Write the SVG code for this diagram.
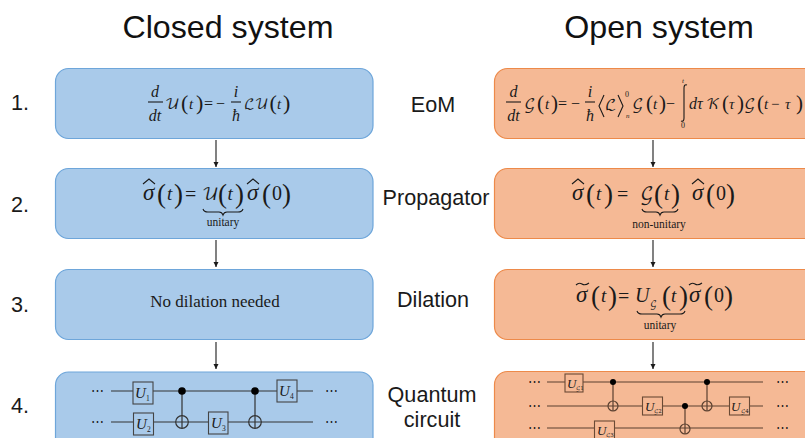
<svg xmlns="http://www.w3.org/2000/svg" width="805" height="438" viewBox="0 0 805 438">
<style>
.h{font:32.2px "Liberation Sans",Arial,sans-serif;fill:#111}
.l{font:21.6px "Liberation Sans",Arial,sans-serif;fill:#1a1a1a}
.blue{fill:#a9caea;stroke:#6ea6da;stroke-width:1.2}
.or{fill:#f5b995;stroke:#ed8a4a;stroke-width:1.2}
.m{font-family:"Liberation Serif","Times New Roman",serif;fill:#1a1a1a}
.i{font-style:italic}
.s{font-family:"DejaVu Math TeX Gyre","DejaVu Serif","Liberation Serif",serif;font-style:normal;fill:#1a1a1a}
.c{stroke:#1a1a1a;stroke-width:1.1;fill:none}
.w{stroke:#333;stroke-width:1.2;fill:none}
.wo{stroke:#5a4030;stroke-width:1.2;fill:none}
.bb{fill:#a9caea;stroke:#444;stroke-width:1.1}
.bo{fill:#f5b995;stroke:#6a4a35;stroke-width:1.1}
.d{fill:#000}
.t{text-anchor:middle}
</style>
<defs>
<marker id="a" markerWidth="6" markerHeight="6" refX="5" refY="2.5" orient="auto" markerUnits="userSpaceOnUse"><path d="M0 0L5 2.5L0 5z" fill="#1a1a1a"/></marker>
</defs>
<text class="h t" x="228" y="38">Closed system</text>
<text class="h t" x="659" y="38">Open system</text>
<g id="labels">
<text class="l" x="11" y="110">1.</text><text class="l" x="11" y="212">2.</text><text class="l" x="11" y="312">3.</text><text class="l" x="11" y="413">4.</text>
<text class="l t" x="433" y="112">EoM</text><text class="l t" x="436" y="205">Propagator</text><text class="l t" x="433" y="307">Dilation</text>
<text class="l t" x="432" y="402">Quantum</text><text class="l t" x="432" y="427">circuit</text>
</g>
<g id="connectors">
<path class="c" marker-end="url(#a)" d="M216 140V167"/><path class="c" marker-end="url(#a)" d="M216 240V267"/><path class="c" marker-end="url(#a)" d="M216 342V369"/>
<path class="c" marker-end="url(#a)" d="M653 140V167"/><path class="c" marker-end="url(#a)" d="M653 240V267"/><path class="c" marker-end="url(#a)" d="M653 342V369"/>
</g>
<g id="closed-eom"><rect class="blue" x="55.500" y="68.500" width="317.500" height="70" rx="13"/>
<text class="m i t" font-size="16" x="155" y="97">d</text><path class="c" d="M148 102H163"/><text class="m i t" font-size="16" x="155" y="121">dt</text>
<text class="s" font-size="15" x="165" y="109">𝒰</text><text class="m" font-size="22" x="181" y="110">(</text><text class="m i" font-size="15" x="189" y="109">t</text><text class="m" font-size="22" x="196" y="110">)</text>
<text class="m" font-size="16" x="204" y="109">=</text><text class="m" font-size="16" x="216" y="109">−</text>
<text class="m i t" font-size="16" x="236" y="97">i</text><path class="c" d="M231 102H241"/><text class="m i t" font-size="16" x="236" y="121">ħ</text>
<text class="s" font-size="14" x="244" y="109">ℒ𝒰</text><text class="m" font-size="22" x="269.500" y="110">(</text><text class="m i" font-size="15" x="277" y="109">t</text><text class="m" font-size="22" x="283" y="110">)</text></g>
<g id="closed-propagator"><rect class="blue" x="55.500" y="168.500" width="317.500" height="70" rx="13"/>
<text class="m i" font-size="23" x="143" y="200">σ</text><path class="c" d="M143 184L149 179L155 184"/>
<text class="m" font-size="27" x="157" y="203">(</text><text class="m i" font-size="19" x="167" y="200">t</text><text class="m" font-size="27" x="174" y="203">)</text>
<text class="m" font-size="20" x="185" y="201">=</text><text class="s" font-size="17" x="202" y="200">𝒰</text>
<text class="m" font-size="27" x="218" y="203">(</text><text class="m i" font-size="19" x="227.500" y="200">t</text><text class="m" font-size="27" x="235" y="203">)</text>
<text class="m i" font-size="23" x="247" y="200">σ</text><path class="c" d="M247 184L253 179L259 184"/>
<text class="m" font-size="27" x="262" y="203">(</text><text class="m" font-size="20" x="272" y="200">0</text><text class="m" font-size="27" x="282" y="203">)</text>
<path class="c" d="M203 209Q204 212 208 212H219Q222 212 223 215Q224 212 227 212H238Q242 212 243 209"/>
<text class="m t" font-size="11.500" x="223" y="226">unitary</text></g>
<g id="closed-dilation"><rect class="blue" x="55.500" y="269.500" width="317.500" height="70" rx="13"/>
<text class="m t" font-size="17" x="215" y="307">No dilation needed</text></g>
<g id="closed-circuit"><rect class="blue" x="55.500" y="372" width="317.500" height="90" rx="13"/>
<path class="w" d="M111 391H313M111 422H313M182 391V428M255 391V428"/>
<circle class="d" cx="182" cy="391" r="3.800"/><circle class="d" cx="255" cy="391" r="3.800"/>
<circle class="w" cx="182" cy="422" r="6.300"/><circle class="w" cx="255" cy="422" r="6.300"/>
<rect class="bb" x="133" y="382" width="20" height="22"/><rect class="bb" x="133.500" y="413" width="20" height="22"/><rect class="bb" x="208.500" y="412" width="19.500" height="22"/><rect class="bb" x="277" y="380" width="20" height="22"/>
<text class="m i" font-size="15" x="135" y="398">U</text><text class="m" font-size="7.500" x="146" y="401">1</text><text class="m i" font-size="15" x="136" y="429">U</text><text class="m" font-size="7.500" x="147" y="432">2</text><text class="m i" font-size="15" x="211" y="428">U</text><text class="m" font-size="7.500" x="222" y="431">3</text><text class="m i" font-size="15" x="279" y="396">U</text><text class="m" font-size="7.500" x="290" y="399">4</text>
<text class="m" font-size="13" x="91" y="395">⋯</text><text class="m" font-size="13" x="91" y="426">⋯</text><text class="m" font-size="13" x="325" y="395">⋯</text><text class="m" font-size="13" x="325" y="426">⋯</text></g>
<g id="open-eom"><rect class="or" x="494.500" y="68.500" width="400" height="70" rx="13"/>
<text class="m i t" font-size="16" x="513.500" y="97">d</text><path class="c" d="M506 102H521"/><text class="m i t" font-size="16" x="513.500" y="121">dt</text>
<text class="s" font-size="15" x="524" y="109">𝒢</text><text class="m" font-size="21" x="537" y="110">(</text><text class="m i" font-size="15" x="545" y="109">t</text><text class="m" font-size="21" x="551" y="110">)</text>
<text class="m" font-size="16" x="558" y="109">=</text><text class="m" font-size="16" x="571" y="109">−</text>
<text class="m i t" font-size="16" x="590" y="97">i</text><path class="c" d="M585 102H595"/><text class="m i t" font-size="16" x="590" y="121">ħ</text>
<path class="c" d="M604 95L599 106L604 117M618 95L623 106L618 117"/><text class="s" font-size="15" x="605" y="110">ℒ</text>
<text class="m" font-size="8" x="625" y="97">0</text><text class="m i" font-size="7" x="626" y="118">n</text>
<text class="s" font-size="15" x="632" y="109">𝒢</text><text class="m" font-size="21" x="646" y="110">(</text><text class="m i" font-size="15" x="653" y="109">t</text><text class="m" font-size="21" x="659" y="110">)</text>
<text class="m" font-size="16" x="666" y="109">−</text>
<path class="c" d="M684 88V118Q684 122 681 121M684 88Q684 84 687 85"/><text class="m i" font-size="7" x="682" y="83">t</text><text class="m" font-size="8" x="681" y="128">0</text>
<text class="m i" font-size="16" x="689" y="109">dτ</text><text class="s" font-size="15" x="706" y="109">𝒦</text>
<text class="m" font-size="21" x="722" y="110">(</text><text class="m i" font-size="15" x="729" y="109">τ</text><text class="m" font-size="21" x="737" y="110">)</text>
<text class="s" font-size="15" x="744" y="109">𝒢</text><text class="m" font-size="21" x="757" y="110">(</text><text class="m i" font-size="15" x="764" y="109">t</text><text class="m" font-size="15" x="771" y="109">−</text><text class="m i" font-size="15" x="785" y="109">τ</text><text class="m" font-size="21" x="796" y="110">)</text></g>
<g id="open-propagator"><rect class="or" x="494.500" y="168.500" width="400" height="70" rx="13"/>
<text class="m i" font-size="23" x="572" y="200">σ</text><path class="c" d="M572 184L578 179L584 184"/>
<text class="m" font-size="27" x="586" y="203">(</text><text class="m i" font-size="19" x="596" y="200">t</text><text class="m" font-size="27" x="604" y="203">)</text>
<text class="m" font-size="20" x="617" y="201">=</text><text class="s" font-size="18" x="640" y="200">𝒢</text>
<text class="m" font-size="27" x="654" y="203">(</text><text class="m i" font-size="19" x="664" y="200">t</text><text class="m" font-size="27" x="671" y="203">)</text>
<text class="m i" font-size="23" x="692" y="200">σ</text><path class="c" d="M692 184L698 179L704 184"/>
<text class="m" font-size="27" x="706" y="203">(</text><text class="m" font-size="20" x="716" y="200">0</text><text class="m" font-size="27" x="726" y="203">)</text>
<path class="c" d="M642 209Q643 212 647 212H656Q659 212 660 215Q661 212 664 212H673Q677 212 678 209"/>
<text class="m t" font-size="11.500" x="659" y="228">non-unitary</text></g>
<g id="open-dilation"><rect class="or" x="494.500" y="269.500" width="400" height="70" rx="13"/>
<text class="m i" font-size="23" x="576" y="302">σ</text><path class="c" d="M576 285Q579 282 582 284T589 283"/>
<text class="m" font-size="27" x="591" y="305">(</text><text class="m i" font-size="19" x="601" y="302">t</text><text class="m" font-size="27" x="608" y="305">)</text>
<text class="m" font-size="20" x="618" y="303">=</text><text class="m i" font-size="20" x="635" y="302">U</text><text class="s" font-size="9" x="650" y="307">𝒢</text>
<text class="m" font-size="27" x="662" y="305">(</text><text class="m i" font-size="19" x="671" y="302">t</text><text class="m" font-size="27" x="679" y="305">)</text>
<text class="m i" font-size="23" x="689" y="302">σ</text><path class="c" d="M689 285Q692 282 695 284T702 283"/>
<text class="m" font-size="27" x="704" y="305">(</text><text class="m" font-size="20" x="714" y="302">0</text><text class="m" font-size="27" x="724" y="305">)</text>
<path class="c" d="M637 311Q638 314 642 314H657Q660 314 661 317Q662 314 665 314H680Q684 314 685 311"/>
<text class="m t" font-size="11.500" x="660" y="329">unitary</text></g>
<g id="open-circuit"><rect class="or" x="494.500" y="371.500" width="400" height="90" rx="13"/>
<path class="wo" d="M547 382H763M547 406H763M547 428H763M613 382V411M685 406V434M707 382V411"/>
<circle class="d" cx="613" cy="382" r="3"/><circle class="d" cx="685" cy="406" r="3"/><circle class="d" cx="707" cy="382" r="3"/>
<circle class="wo" cx="613" cy="406" r="5"/><circle class="wo" cx="685" cy="429" r="5"/><circle class="wo" cx="707" cy="406" r="5"/>
<rect class="bo" x="565" y="374" width="18" height="18"/><rect class="bo" x="642.500" y="397" width="20" height="18"/><rect class="bo" x="594.500" y="421" width="20" height="18"/><rect class="bo" x="729.500" y="397" width="20" height="18"/>
<text class="m i" font-size="13" x="567" y="388">U</text><text class="s" font-size="5.500" x="576" y="390">𝒢1</text><text class="m i" font-size="13" x="645" y="411">U</text><text class="s" font-size="5.500" x="654" y="413">𝒢2</text><text class="m i" font-size="13" x="597" y="435">U</text><text class="s" font-size="5.500" x="606" y="437">𝒢3</text><text class="m i" font-size="13" x="731" y="411">U</text><text class="s" font-size="5.500" x="741" y="413">𝒢4</text>
<text class="m" font-size="13" x="528" y="386">⋯</text><text class="m" font-size="13" x="528" y="410">⋯</text><text class="m" font-size="13" x="528" y="432">⋯</text><text class="m" font-size="13" x="776" y="386">⋯</text><text class="m" font-size="13" x="776" y="410">⋯</text><text class="m" font-size="13" x="776" y="432">⋯</text></g>
</svg>
